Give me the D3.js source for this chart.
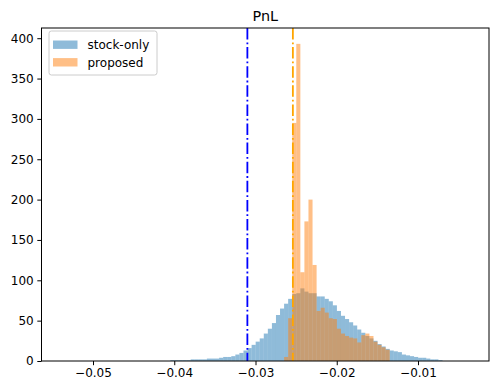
<!DOCTYPE html>
<html>
<head>
<meta charset="utf-8">
<script src="https://cdn.jsdelivr.net/npm/d3@7"></script>
<style>
  html, body { margin: 0; padding: 0; background: #fff; }
  svg { display: block; }
  text { font-family: "DejaVu Sans", sans-serif; fill: #000; }
</style>
</head>
<body>
<svg id="chart" width="498" height="391"></svg>
<script>
// ---------------- data ----------------
const title = "PnL";
const seriesNames = ["stock-only", "proposed"];
const binWidth = 0.0005;
// stock-only histogram: left edge of first listed bin, then counts per bin
const stockStart = -0.04198;
const stockCounts = [
  0, 0, 0, 1, 1, 1, 1, 1, 2, 2, 2, 2, 3, 3, 3, 4, 5, 5, 6, 8, 10, 13, 16, 20, 24, 28, 34, 40, 47, 57, 65, 71, 77,
  83, 84, 90, 86, 84, 84, 80, 80, 77, 74, 69, 62, 56, 52, 48, 44, 39, 35, 31, 28, 25, 21, 18, 15, 13, 12, 11, 8, 7, 6, 5, 4, 4, 3, 2, 2, 1, 0
];
// proposed histogram
const propStart = -0.02648;
const propCounts = [
  5, 53, 295, 393, 110, 173, 200, 119, 62, 66, 60, 53, 52, 40, 34, 31, 29, 28, 23, 32, 34, 31, 24, 20, 17, 14
];
// reference lines
const stockLine = -0.0310;
const propLine = -0.0254;
// axes
const xDomain = [-0.05634, -0.00126];
const yDomain = [0, 412.65];
const xTicks = [-0.05, -0.04, -0.03, -0.02, -0.01];
const xTickLabels = ["−0.05", "−0.04", "−0.03", "−0.02", "−0.01"];
const yTicks = [0, 50, 100, 150, 200, 250, 300, 350, 400];
const yTickLabels = ["0", "50", "100", "150", "200", "250", "300", "350", "400"];

// ---------------- layout ----------------
const L = 41.5, R = 489, T = 28, B = 361;
const svg = d3.select("#chart");
const x = d3.scaleLinear().domain(xDomain).range([L, R]);
const y = d3.scaleLinear().domain(yDomain).range([B, T]);

const stockBins = stockCounts.map((c, i) => ({x0: stockStart + i * binWidth, x1: stockStart + (i + 1) * binWidth, c}));
const propBins = propCounts.map((c, i) => ({x0: propStart + i * binWidth, x1: propStart + (i + 1) * binWidth, c}));

const plot = svg.append("g");
function drawBars(bins, color) {
  plot.append("g").selectAll("rect").data(bins.filter(d => d.c > 0)).join("rect")
    .attr("x", d => x(d.x0))
    .attr("width", d => x(d.x1) - x(d.x0))
    .attr("y", d => y(d.c))
    .attr("height", d => y(0) - y(d.c))
    .attr("fill", color)
    .attr("fill-opacity", 0.5);
}
drawBars(stockBins, "#1f77b4");
drawBars(propBins, "#ff7f0e");

// vertical dash-dot lines
const dash = "11.5,2.9,1.8,2.9";
[[stockLine, "#0000ff"], [propLine, "#ffa500"]].forEach(([v, c]) => {
  svg.append("line")
    .attr("x1", x(v)).attr("x2", x(v))
    .attr("y1", y(yDomain[1]) ).attr("y2", y(0))
    .attr("stroke", c).attr("stroke-width", 1.8)
    .attr("stroke-dasharray", dash);
});

// axes
const xAxis = d3.axisBottom(x).tickValues(xTicks)
  .tickFormat((d, i) => xTickLabels[i]).tickSizeInner(4.2).tickSizeOuter(0).tickPadding(3.6);
const yAxis = d3.axisLeft(y).tickValues(yTicks)
  .tickFormat((d, i) => yTickLabels[i]).tickSizeInner(4.2).tickSizeOuter(0).tickPadding(3.6);

const gx = svg.append("g").attr("transform", `translate(0,${B})`).call(xAxis);
const gy = svg.append("g").attr("transform", `translate(${L},0)`).call(yAxis);
[gx, gy].forEach(g => {
  g.select(".domain").remove();
  g.selectAll(".tick line").attr("stroke", "#000").attr("stroke-width", 1);
  g.selectAll(".tick text").attr("font-size", 12).attr("font-family", "DejaVu Sans").attr("fill", "#000");
});

// spines
svg.append("rect")
  .attr("x", L).attr("y", T).attr("width", R - L).attr("height", B - T)
  .attr("fill", "none").attr("stroke", "#000").attr("stroke-width", 1);

// title
svg.append("text")
  .attr("x", (L + R) / 2).attr("y", 20.5)
  .attr("text-anchor", "middle").attr("font-size", 14.4)
  .text(title);

// legend
const lg = svg.append("g");
lg.append("rect")
  .attr("x", 49).attr("y", 31).attr("width", 108).attr("height", 44)
  .attr("rx", 2.4).attr("ry", 2.4)
  .attr("fill", "#fff").attr("fill-opacity", 0.8)
  .attr("stroke", "#cccccc").attr("stroke-width", 1);
const legColors = ["#1f77b4", "#ff7f0e"];
const rowY = [44.7, 62.3];
seriesNames.forEach((name, i) => {
  lg.append("rect")
    .attr("x", 53).attr("y", rowY[i] - 4.2).attr("width", 24.5).attr("height", 8.4)
    .attr("fill", legColors[i]).attr("fill-opacity", 0.5);
  lg.append("text")
    .attr("x", 87.5).attr("y", rowY[i] + 4.3)
    .attr("font-size", 12)
    .text(name);
});
</script>
</body>
</html>
